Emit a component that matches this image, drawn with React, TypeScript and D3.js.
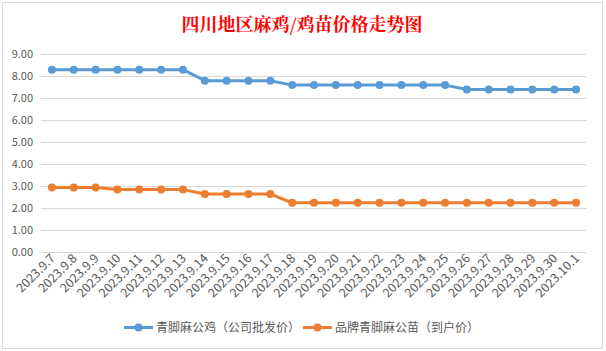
import { useEffect, useRef } from "react"
import * as d3 from "d3"

// 日期
const fechas = [
  "2023.9.7", "2023.9.8", "2023.9.9", "2023.9.10", "2023.9.11", "2023.9.12", "2023.9.13",
  "2023.9.14", "2023.9.15", "2023.9.16", "2023.9.17", "2023.9.18", "2023.9.19", "2023.9.20",
  "2023.9.21", "2023.9.22", "2023.9.23", "2023.9.24", "2023.9.25", "2023.9.26", "2023.9.27",
  "2023.9.28", "2023.9.29", "2023.9.30", "2023.10.1",
]

const gallo = [
  8.3, 8.3, 8.3, 8.3, 8.3, 8.3, 8.3,
  7.8, 7.8, 7.8, 7.8,
  7.6, 7.6, 7.6, 7.6, 7.6, 7.6, 7.6, 7.6,
  7.4, 7.4, 7.4, 7.4, 7.4, 7.4,
]

const pollito = [
  2.95, 2.95, 2.95,
  2.85, 2.85, 2.85, 2.85,
  2.65, 2.65, 2.65, 2.65,
  2.25, 2.25, 2.25, 2.25, 2.25, 2.25, 2.25, 2.25, 2.25, 2.25, 2.25, 2.25, 2.25, 2.25,
]

const ticksY = [0, 1, 2, 3, 4, 5, 6, 7, 8, 9]

const series = [
  { nombre: "青脚麻公鸡（公司批发价）", valores: gallo, color: "#5B9BD5" },
  { nombre: "品牌青脚麻公苗（到户价）", valores: pollito, color: "#ED7D31" },
]

const titulo = "四川地区麻鸡/鸡苗价格走势图"

export default function App() {
  const svgRef = useRef<SVGSVGElement>(null)

  useEffect(() => {
    if (!svgRef.current) return
    const svg = d3.select(svgRef.current)
    svg.selectAll("*").remove()

    const width = 606
    const height = 351
    const font = "'Microsoft YaHei', 'Noto Sans CJK SC', 'Noto Sans', sans-serif"
    const gris = "#595959"

    // Fondo y borde
    svg.append("rect").attr("width", width).attr("height", height).attr("fill", "#fff")
    svg.append("rect")
      .attr("x", 2.5).attr("y", 2.5).attr("width", 600).attr("height", 346)
      .attr("fill", "#fff").attr("stroke", "#D9D9D9")

    // Título
    svg.append("text")
      .attr("x", 302).attr("y", 31)
      .attr("text-anchor", "middle")
      .attr("fill", "#FF0000")
      .style("font-family", "'Noto Serif CJK SC', 'Noto Sans CJK SC', serif")
      .style("font-size", "18px")
      .style("font-weight", "bold")
      .text(titulo)

    const x = d3.scaleBand().domain(fechas).range([41, 587])
    const y = d3.scaleLinear().domain([0, 9]).range([252.3, 54.3])
    const cx = (d: string) => x(d)! + x.bandwidth() / 2

    const g = svg.append("g")

    // Rejilla
    g.selectAll(".grid")
      .data(ticksY)
      .enter()
      .append("line")
      .attr("x1", 41).attr("x2", 587)
      .attr("y1", (d) => Math.round(y(d)) + 0.5)
      .attr("y2", (d) => Math.round(y(d)) + 0.5)
      .attr("stroke", "#D9D9D9")
      .attr("stroke-width", 1)

    // Etiquetas Y
    g.selectAll(".ylab")
      .data(ticksY)
      .enter()
      .append("text")
      .attr("x", 33)
      .attr("y", (d) => y(d) + 4)
      .attr("text-anchor", "end")
      .attr("fill", gris)
      .style("font-family", font)
      .style("font-size", "11px")
      .text((d) => d3.format(".2f")(d))

    // Etiquetas X
    g.selectAll(".xlab")
      .data(fechas)
      .enter()
      .append("text")
      .attr("transform", (d) => `translate(${cx(d) + 4},${259}) rotate(-45)`)
      .attr("text-anchor", "end")
      .attr("fill", gris)
      .style("font-family", font)
      .style("font-size", "12.5px")
      .text((d) => d)

    // Líneas
    const linea = d3.line<number>()
      .x((_, i) => cx(fechas[i]))
      .y((d) => y(d))

    series.forEach((s) => {
      g.append("path")
        .datum(s.valores)
        .attr("d", linea)
        .attr("fill", "none")
        .attr("stroke", s.color)
        .attr("stroke-width", 3)
        .attr("stroke-linejoin", "round")
        .attr("stroke-linecap", "round")

      g.selectAll(null)
        .data(s.valores)
        .enter()
        .append("circle")
        .attr("cx", (_, i) => cx(fechas[i]))
        .attr("cy", (d) => y(d))
        .attr("r", 4)
        .attr("fill", s.color)
    })

    // Leyenda
    const leyendaX = [124, 303]
    series.forEach((s, i) => {
      const lg = svg.append("g").attr("transform", `translate(${leyendaX[i]},327.5)`)
      lg.append("line").attr("x1", 0).attr("x2", 29).attr("stroke", s.color).attr("stroke-width", 3)
      lg.append("circle").attr("cx", 14.5).attr("r", 4).attr("fill", s.color)
      lg.append("text")
        .attr("x", 32).attr("y", 4.5)
        .attr("fill", gris)
        .style("font-family", font)
        .style("font-size", "12px")
        .text(s.nombre)
    })
  }, [])

  return (
    <svg
      ref={svgRef}
      width={606}
      height={351}
      style={{ position: "absolute", left: 0, top: 0, display: "block" }}
    />
  )
}
